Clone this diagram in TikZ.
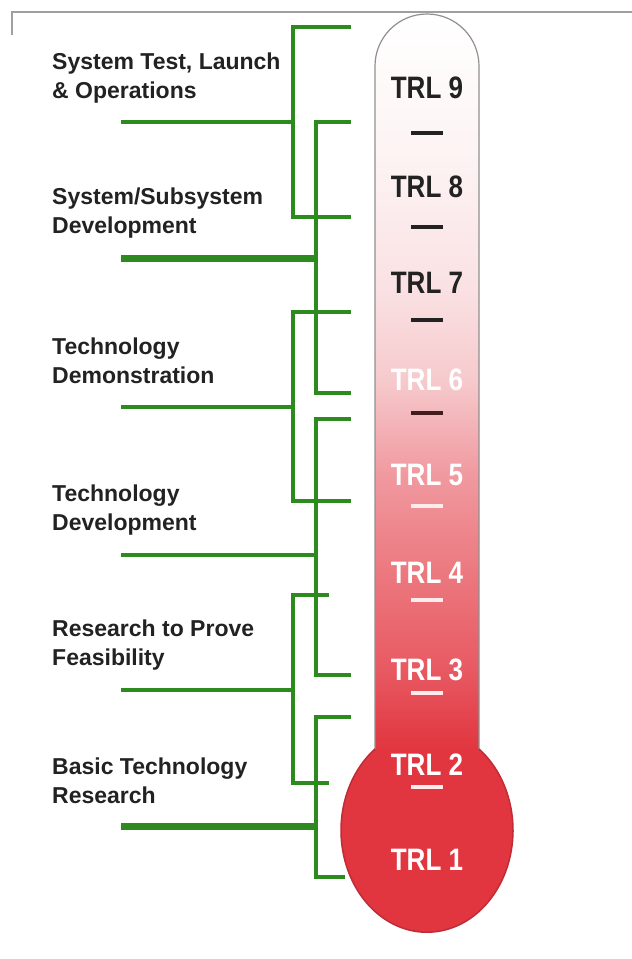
\documentclass[tikz,border=0pt]{standalone}
\usepackage{fontspec}
\setmainfont{Liberation Sans}
\usepackage{graphicx}
\definecolor{trlgreen}{HTML}{2C8A1E}
\definecolor{labelgray}{HTML}{222222}
\definecolor{framegray}{HTML}{A0A0A0}
\definecolor{tubegray}{HTML}{909090}
\definecolor{bulbred}{HTML}{E1363F}
\definecolor{bulbedge}{HTML}{C02C36}
\definecolor{tw1}{HTML}{FDF4F4}
\definecolor{tw2}{HTML}{FAE2E4}
\definecolor{tw3}{HTML}{F6CACD}
\definecolor{tw4}{HTML}{F0999F}
\definecolor{tw5}{HTML}{EC787F}
\definecolor{tw6}{HTML}{E85A63}
\pgfdeclareverticalshading{tubeshade}{100bp}{color(0bp)=(bulbred); color(25bp)=(bulbred);
  color(30.5bp)=(tw6); color(37bp)=(tw5); color(43.6bp)=(tw4); color(50.1bp)=(tw3);
  color(56.6bp)=(tw2); color(65.7bp)=(tw1); color(75bp)=(white); color(100bp)=(white)}
\begin{document}
\begin{tikzpicture}[x=1pt,y=1pt,
  stage/.style={anchor=west,align=left,inner sep=0pt,text=labelgray,
    font=\fontsize{23}{29}\selectfont\bfseries},
  trl/.style={inner sep=0pt,font=\fontsize{31}{31}\selectfont\bfseries},
  link/.style={trlgreen,line width=4pt},
  thicklink/.style={trlgreen,line width=7pt},
  tick/.style={line width=3.5pt}]
\useasboundingbox (0,0) rectangle (632,-959);
\draw[framegray,line width=1.5pt] (12,-35) -- (12,-12) -- (632,-12);

% thermometer
\fill[bulbred] (427,-830) ellipse[x radius=86,y radius=102];
\shade[shading=tubeshade] (375,-749) -- (375,-66) arc[start angle=180,end angle=0,radius=52] -- (479,-749) -- cycle;
\draw[tubegray,line width=1.2pt] (375,-749) -- (375,-66) arc[start angle=180,end angle=0,radius=52] -- (479,-749);
\draw[bulbedge,line width=1.5pt] (479,-749) arc[start angle=52.8,end angle=-232.8,x radius=86,y radius=102];

% levels
\node[trl,text=labelgray] (trl9) at (427,-88) {\scalebox{0.84}[1]{TRL 9}};
\node[trl,text=labelgray] (trl8) at (427,-187) {\scalebox{0.84}[1]{TRL 8}};
\node[trl,text=labelgray] (trl7) at (427,-283) {\scalebox{0.84}[1]{TRL 7}};
\node[trl,text=white] (trl6) at (427,-380) {\scalebox{0.84}[1]{TRL 6}};
\node[trl,text=white] (trl5) at (427,-475) {\scalebox{0.84}[1]{TRL 5}};
\node[trl,text=white] (trl4) at (427,-573) {\scalebox{0.84}[1]{TRL 4}};
\node[trl,text=white] (trl3) at (427,-670) {\scalebox{0.84}[1]{TRL 3}};
\node[trl,text=white] (trl2) at (427,-765) {\scalebox{0.84}[1]{TRL 2}};
\node[trl,text=white] (trl1) at (427,-860) {\scalebox{0.84}[1]{TRL 1}};
\draw[tick,labelgray] (411,-133) -- (443,-133);
\draw[tick,labelgray] (411,-227) -- (443,-227);
\draw[tick,labelgray] (411,-320) -- (443,-320);
\draw[tick,labelgray!85!red] (411,-413) -- (443,-413);
\draw[tick,white!92!red] (411,-506) -- (443,-506);
\draw[tick,white!92!red] (411,-600) -- (443,-600);
\draw[tick,white!92!red] (411,-693) -- (443,-693);
\draw[tick,white!92!red] (411,-787) -- (443,-787);

% phases
\node[stage] (launch) at (52,-78) {System Test, Launch\\\& Operations};
\node[stage] (subsys) at (52,-213) {System/Subsystem\\Development};
\node[stage] (demo) at (52,-361) {Technology\\Demonstration};
\node[stage] (devel) at (52,-510) {Technology\\Development};
\node[stage] (feas) at (52,-645) {Research to Prove\\Feasibility};
\node[stage] (basic) at (52,-781) {Basic Technology\\Research};

% brackets
\coordinate (a-top) at (351,-27); \coordinate (a-mid) at (293,-122);
\coordinate (a-bot) at (351,-217); \coordinate (a-in) at (121,-122);
\draw[link] (a-top) -| (a-mid) |- (a-bot);
\draw[link] (a-in) -- (a-mid);
\coordinate (b-top) at (351,-122); \coordinate (b-mid) at (316,-258);
\coordinate (b-bot) at (351,-393); \coordinate (b-in) at (121,-258);
\draw[link] (b-top) -| (b-mid) |- (b-bot);
\draw[thicklink] (b-in) -- (b-mid);
\coordinate (c-top) at (351,-312); \coordinate (c-mid) at (293,-407);
\coordinate (c-bot) at (351,-501); \coordinate (c-in) at (121,-407);
\draw[link] (c-top) -| (c-mid) |- (c-bot);
\draw[link] (c-in) -- (c-mid);
\coordinate (d-top) at (351,-419); \coordinate (d-mid) at (316,-555);
\coordinate (d-bot) at (351,-675); \coordinate (d-in) at (121,-555);
\draw[link] (d-top) -| (d-mid) |- (d-bot);
\draw[link] (d-in) -- (d-mid);
\coordinate (e-top) at (329,-595); \coordinate (e-mid) at (293,-690);
\coordinate (e-bot) at (329,-783); \coordinate (e-in) at (121,-690);
\draw[link] (e-top) -| (e-mid) |- (e-bot);
\draw[link] (e-in) -- (e-mid);
\coordinate (f-top) at (351,-717); \coordinate (f-mid) at (316,-826);
\coordinate (f-bot) at (345,-877); \coordinate (f-in) at (121,-826);
\draw[link] (f-top) -| (f-mid) |- (f-bot);
\draw[thicklink] (f-in) -- (f-mid);
\end{tikzpicture}
\end{document}
